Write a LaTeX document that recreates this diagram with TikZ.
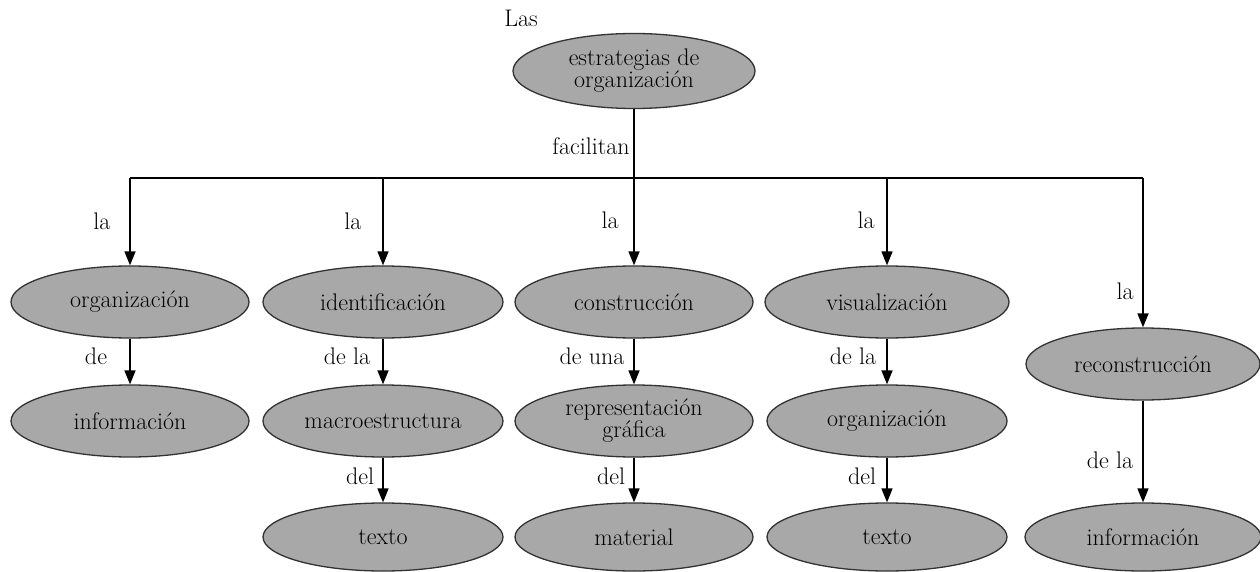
\documentclass[tikz,border=0pt]{standalone}
\usetikzlibrary{shapes.geometric,arrows.meta}
\definecolor{ellfill}{RGB}{168,168,168}
\definecolor{ellline}{RGB}{50,50,50}
\begin{document}
\begin{tikzpicture}[x=1pt,y=-1pt,
  every node/.style={font=\fontsize{24}{22}\selectfont, inner sep=0pt},
  ell/.style={ellipse, draw=ellline, line width=1.3pt, fill=ellfill,
    minimum width=238pt, minimum height=72pt, align=center},
  ellsm/.style={ell, minimum height=68pt},
  lbl/.style={text=black},
  conn/.style={line width=1.6pt, draw=black},
  arr/.style={conn, -{Triangle[length=14pt,width=11pt]}}
]
\useasboundingbox (0,0) rectangle (1260,572);

% top
\node[ell, minimum width=242pt, minimum height=75pt] (top) at (634,71) {estrategias de\\organización};
\node[lbl] (las) at (521,18) {Las};
\node[lbl] (facilitan) at (591,146) {facilitan};

% row 1
\node[ell] (r1a) at (130,302) {organización};
\node[ell, minimum width=240pt] (r1b) at (383,302) {identificación};
\node[ell] (r1c) at (634,302) {construcción};
\node[ell, minimum width=244pt] (r1d) at (887,302) {visualización};
\node[ell, minimum width=234pt] (r1e) at (1143,364) {reconstrucción};

% row 2
\node[ell] (r2a) at (130,421) {información};
\node[ell, minimum width=240pt] (r2b) at (383,421) {macroestructura};
\node[ell] (r2c) at (634,421) {representación\\gráfica};
\node[ell, minimum width=240pt] (r2d) at (887,421) {organización};

% row 3
\node[ellsm, minimum width=240pt] (r3b) at (383,537) {texto};
\node[ellsm] (r3c) at (634,537) {material};
\node[ellsm, minimum width=240pt] (r3d) at (887,537) {texto};
\node[ellsm, minimum width=236pt] (r3e) at (1143,537) {información};

% junction coordinates
\coordinate (jc) at (634,178);
\coordinate (j1) at (130,178);
\coordinate (j2) at (383,178);
\coordinate (j3) at (634,178);
\coordinate (j4) at (887,178);
\coordinate (j5) at (1143,178);

\draw[conn] (top.south) -- (jc);
\draw[conn] (j1) -- (j5);
\draw[arr] (j1) -- (r1a.north);
\draw[arr] (j2) -- (r1b.north);
\draw[arr] (j3) -- (r1c.north);
\draw[arr] (j4) -- (r1d.north);
\draw[arr] (j5) -- (r1e.north);

\draw[arr] (r1a.south) -- (r2a.north);
\draw[arr] (r1b.south) -- (r2b.north);
\draw[arr] (r1c.south) -- (r2c.north);
\draw[arr] (r1d.south) -- (r2d.north);

\draw[arr] (r2b.south) -- (r3b.north);
\draw[arr] (r2c.south) -- (r3c.north);
\draw[arr] (r2d.south) -- (r3d.north);
\draw[arr] (r1e.south) -- (r3e.north);

% labels
\node[lbl] (la1) at (102,221) {la};
\node[lbl] (la2) at (353,221) {la};
\node[lbl] (la3) at (610,220) {la};
\node[lbl] (la4) at (866,220) {la};
\node[lbl] (la5) at (1125,291) {la};

\node[lbl] (de1) at (96,356) {de};
\node[lbl] (de2) at (347,356) {de la};
\node[lbl] (de3) at (592,356) {de una};
\node[lbl] (de4) at (853,356) {de la};

\node[lbl] (del2) at (360,476) {del};
\node[lbl] (del3) at (611,476) {del};
\node[lbl] (del4) at (862,476) {del};
\node[lbl] (de5) at (1110,460) {de la};
\end{tikzpicture}
\end{document}
